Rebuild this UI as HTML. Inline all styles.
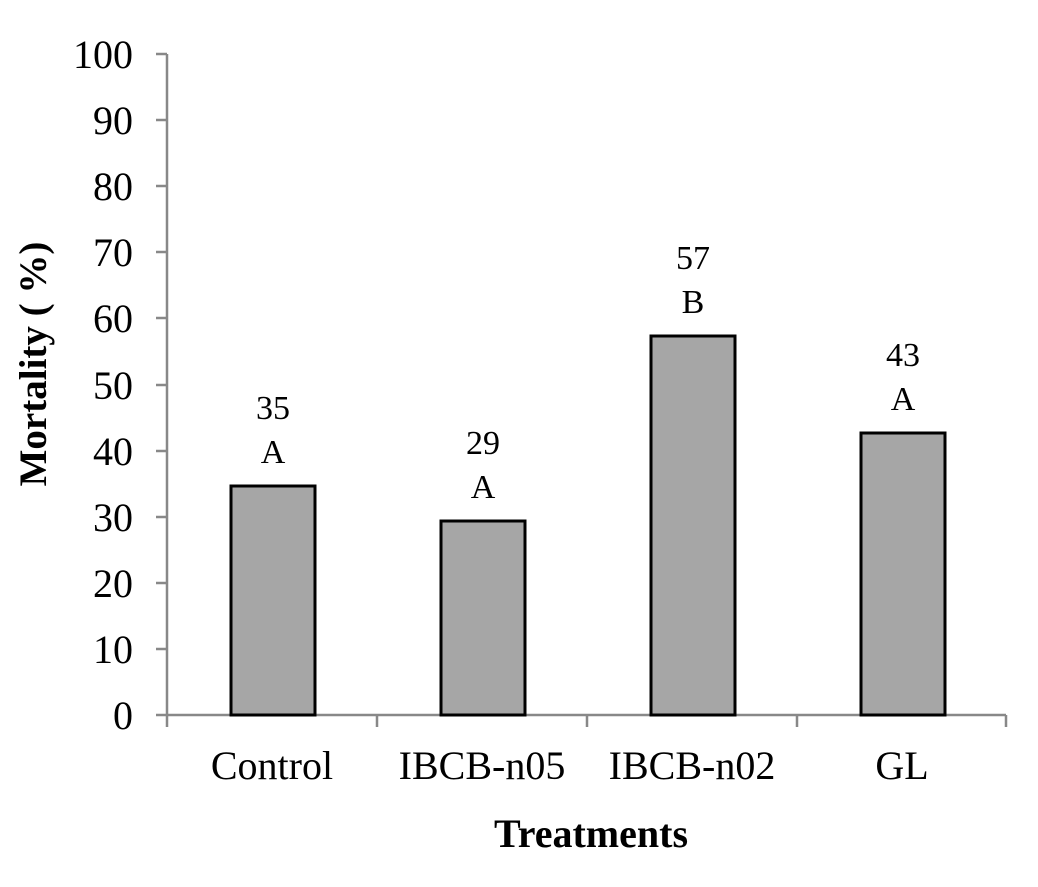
<!DOCTYPE html>
<html><head><style>body{margin:0;background:#fff}</style></head><body>
<svg width="1038" height="882" xmlns="http://www.w3.org/2000/svg" font-family="Liberation Serif, serif">
<rect width="1038" height="882" fill="#fff"/>
<g stroke="#888" stroke-width="2.5" fill="none">
<line x1="167" y1="54" x2="167" y2="715"/>
<line x1="167" y1="715" x2="1006" y2="715"/>
<path d="M156 54H167M156 120H167M156 186H167M156 252H167M156 318H167M156 385H167M156 451H167M156 517H167M156 583H167M156 649H167M156 715H167"/>
<path d="M167 715V727M377 715V727M587 715V727M797 715V727M1006 715V727"/>
</g>
<g font-size="40" text-anchor="end" fill="#000">
<text x="133" y="68">100</text><text x="133" y="134">90</text><text x="133" y="200">80</text><text x="133" y="266">70</text><text x="133" y="332">60</text><text x="133" y="399">50</text><text x="133" y="465">40</text><text x="133" y="531">30</text><text x="133" y="597">20</text><text x="133" y="663">10</text><text x="133" y="729">0</text>
</g>
<g fill="#a6a6a6" stroke="#000" stroke-width="3">
<rect x="231" y="486" width="84" height="229"/>
<rect x="441" y="521" width="84" height="194"/>
<rect x="651" y="336" width="84" height="379"/>
<rect x="861" y="433" width="84" height="282"/>
</g>
<g font-size="34" text-anchor="middle" fill="#000">
<text x="273" y="419">35</text><text x="273" y="463">A</text>
<text x="483" y="454">29</text><text x="483" y="498">A</text>
<text x="693" y="269">57</text><text x="693" y="313">B</text>
<text x="903" y="366">43</text><text x="903" y="410">A</text>
</g>
<g font-size="40" text-anchor="middle" fill="#000">
<text x="272" y="779">Control</text><text x="482" y="779">IBCB-n05</text><text x="692" y="779">IBCB-n02</text><text x="902" y="779">GL</text>
<text x="591" y="847" font-weight="bold">Treatments</text>
<text transform="translate(46,364) rotate(-90)" font-weight="bold" font-size="39">Mortality ( %)</text>
</g>
</svg>
</body></html>
